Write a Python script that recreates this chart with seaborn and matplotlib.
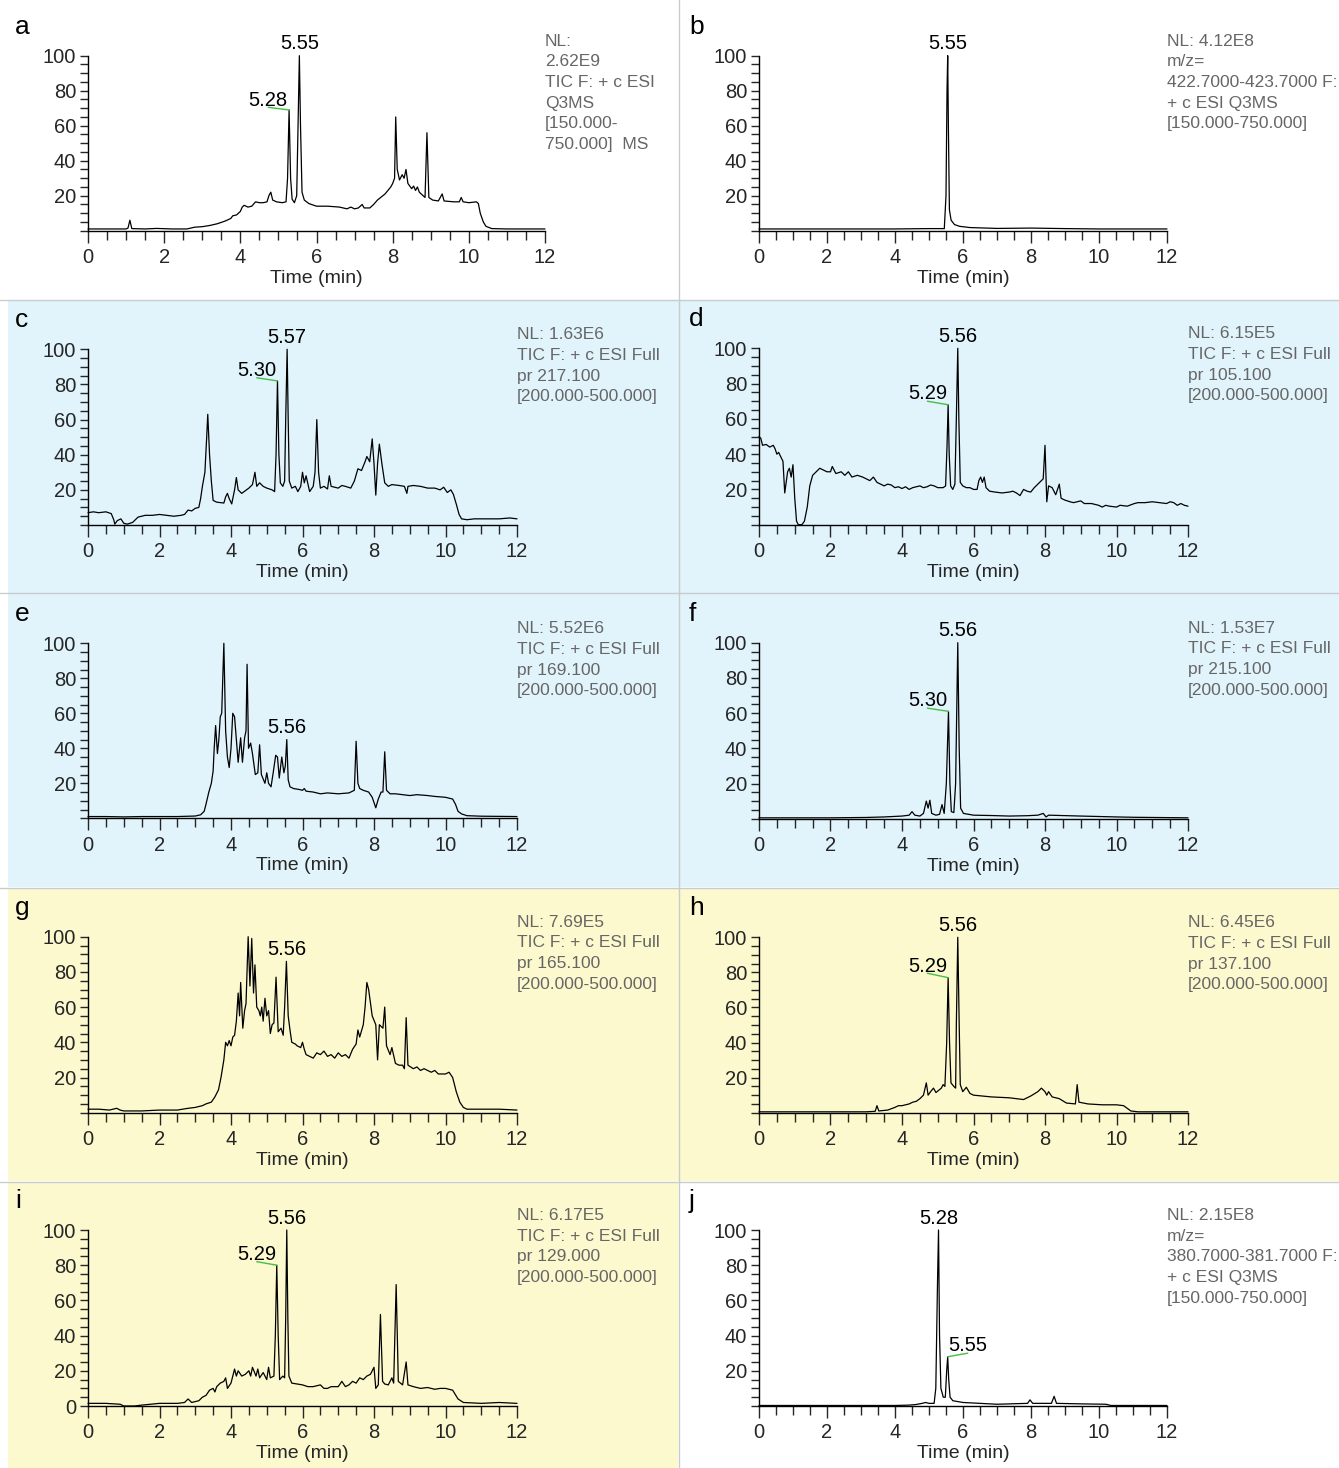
import numpy as np
import pandas as pd
import matplotlib
matplotlib.use("Agg")
import matplotlib.pyplot as plt
import seaborn as sns
from matplotlib.patches import Rectangle
from matplotlib.lines import Line2D

# ---------------- DATA (time in min, relative abundance %) ----------------
a_trace = [(0.0,1.0),(0.5,1.0),(1.0,1.0),(1.05,1.5),(1.1,6.0),(1.15,1.2),(1.5,1.0),(1.8,1.3),(2.2,1.0),(2.6,1.0),
           (2.8,2.0),(3.0,2.3),(3.2,3.0),(3.4,4.0),(3.6,5.5),(3.75,7.0),(3.8,8.5),(3.9,9.0),(4.0,11.0),(4.05,13.5),
           (4.1,14.5),(4.2,13.5),(4.3,14.0),(4.4,16.5),(4.5,16.0),(4.6,16.0),(4.7,16.5),(4.75,20.0),(4.8,22.0),(4.85,17.5),
           (4.95,16.5),(5.1,16.0),(5.2,16.5),(5.24,30.0),(5.28,69.0),(5.32,30.0),(5.36,18.0),(5.42,16.0),(5.48,20.0),(5.52,65.0),
           (5.55,100.0),(5.58,60.0),(5.62,22.0),(5.68,17.5),(5.8,15.5),(6.0,14.0),(6.3,14.0),(6.6,13.5),(6.8,12.5),(6.9,13.5),
           (7.0,12.5),(7.1,13.0),(7.2,15.0),(7.25,13.0),(7.4,13.0),(7.5,15.0),(7.6,17.5),(7.8,21.0),(7.95,25.0),(8.0,27.0),
           (8.05,30.0),(8.08,65.0),(8.12,35.0),(8.18,29.0),(8.25,32.0),(8.3,30.0),(8.35,35.0),(8.4,27.0),(8.5,24.0),(8.55,25.5),
           (8.6,23.0),(8.65,25.0),(8.7,22.0),(8.8,20.0),(8.85,19.0),(8.9,56.0),(8.95,19.0),(9.05,17.5),(9.2,17.0),(9.3,21.0),
           (9.35,17.0),(9.6,16.5),(9.75,16.5),(9.8,19.0),(9.85,16.5),(10.0,16.0),(10.2,16.5),(10.25,15.5),(10.3,10.0),(10.38,5.0),
           (10.45,2.5),(10.6,1.2),(11.0,1.0),(12.0,1.0)]

b_trace = [(0.0,1.0),(2.0,1.0),(4.0,1.0),(5.0,1.2),(5.45,1.2),(5.5,20.0),(5.53,80.0),(5.55,100.0),(5.57,60.0),(5.6,12.0),
           (5.65,6.0),(5.75,3.5),(5.9,2.5),(6.2,1.8),(7.0,1.3),(8.0,1.5),(9.0,1.2),(10.0,1.0),(12.0,1.0)]

c_trace = [(0.0,7.0),(0.15,7.5),(0.3,7.0),(0.5,7.5),(0.65,6.5),(0.72,3.0),(0.75,0.5),(0.82,2.5),(0.92,3.5),(1.0,1.0),
           (1.1,0.5),(1.25,1.5),(1.4,4.5),(1.6,5.5),(1.8,5.5),(2.0,6.0),(2.2,5.5),(2.4,5.0),(2.6,5.5),(2.7,6.0),
           (2.8,8.5),(2.9,8.0),(3.0,9.5),(3.1,10.0),(3.15,15.0),(3.2,22.0),(3.27,30.0),(3.32,50.0),(3.35,63.0),(3.4,40.0),
           (3.45,25.0),(3.5,14.0),(3.6,13.0),(3.8,12.5),(3.85,16.0),(3.9,18.0),(3.95,15.0),(4.02,12.0),(4.1,20.0),(4.15,27.0),
           (4.2,20.0),(4.3,18.0),(4.4,19.5),(4.5,21.0),(4.6,23.0),(4.67,30.0),(4.72,22.0),(4.8,24.0),(4.9,22.0),(5.0,21.0),
           (5.15,20.0),(5.22,19.0),(5.26,40.0),(5.3,82.0),(5.34,40.0),(5.38,24.0),(5.45,22.0),(5.5,25.0),(5.53,60.0),(5.57,100.0),
           (5.6,60.0),(5.63,25.0),(5.7,21.0),(5.8,22.0),(5.87,19.0),(5.95,22.0),(6.0,30.0),(6.05,24.0),(6.1,28.0),(6.2,19.0),
           (6.3,22.0),(6.35,30.0),(6.4,60.0),(6.45,30.0),(6.5,21.0),(6.6,22.0),(6.7,20.5),(6.75,28.0),(6.8,22.0),(6.9,21.5),
           (7.0,21.0),(7.1,22.5),(7.2,22.0),(7.35,21.0),(7.45,25.0),(7.55,32.0),(7.65,31.0),(7.75,36.0),(7.8,39.0),(7.88,36.0),
           (7.95,49.0),(8.0,35.0),(8.05,17.0),(8.1,35.0),(8.15,46.0),(8.22,35.0),(8.3,24.0),(8.4,22.0),(8.5,23.0),(8.7,22.5),
           (8.85,22.0),(8.92,18.0),(8.95,22.0),(9.1,22.5),(9.3,22.0),(9.5,21.0),(9.7,21.0),(9.85,20.0),(9.95,21.5),(10.05,18.5),
           (10.15,20.0),(10.22,17.5),(10.3,12.0),(10.38,6.0),(10.45,3.5),(10.6,3.0),(10.8,3.5),(11.2,3.5),(11.5,3.5),(11.8,4.0),
           (12.0,3.5)]

d_trace = [(0.0,50.0),(0.05,49.0),(0.1,45.0),(0.2,45.5),(0.3,44.0),(0.4,45.0),(0.45,43.0),(0.5,40.0),(0.55,41.0),(0.62,38.0),
           (0.67,36.0),(0.72,18.0),(0.8,30.0),(0.85,32.0),(0.9,27.0),(0.95,34.0),(1.0,15.0),(1.05,2.0),(1.1,0.0),(1.2,0.0),
           (1.27,2.0),(1.35,10.0),(1.42,22.0),(1.5,28.0),(1.6,30.0),(1.7,32.0),(1.8,31.0),(1.9,30.0),(2.0,30.0),(2.05,33.0),
           (2.15,29.0),(2.3,30.0),(2.4,28.0),(2.5,30.0),(2.6,27.0),(2.75,28.0),(2.9,27.0),(3.0,26.0),(3.1,25.0),(3.2,27.0),
           (3.3,24.0),(3.5,22.0),(3.6,23.0),(3.7,22.5),(3.8,21.0),(3.9,21.5),(4.0,20.5),(4.1,21.5),(4.2,20.0),(4.3,21.0),
           (4.5,22.0),(4.6,21.0),(4.7,21.5),(4.8,22.5),(4.9,22.0),(5.0,21.0),(5.15,21.0),(5.22,22.0),(5.26,45.0),(5.29,68.0),
           (5.32,40.0),(5.36,22.0),(5.42,20.0),(5.48,23.0),(5.52,60.0),(5.56,100.0),(5.59,60.0),(5.63,24.0),(5.7,22.0),(5.8,21.0),
           (5.9,21.0),(6.0,20.0),(6.1,20.0),(6.15,25.0),(6.2,27.0),(6.25,24.0),(6.3,27.0),(6.35,21.0),(6.45,19.0),(6.6,18.5),
           (6.8,18.0),(7.0,18.5),(7.1,19.0),(7.2,18.0),(7.3,16.5),(7.4,20.0),(7.5,19.0),(7.6,18.5),(7.7,21.0),(7.8,23.0),
           (7.9,25.0),(7.95,26.0),(8.0,45.0),(8.05,13.0),(8.1,22.0),(8.2,21.0),(8.3,17.0),(8.4,23.0),(8.45,15.0),(8.55,14.0),
           (8.7,13.0),(8.8,12.5),(8.9,13.0),(9.0,13.5),(9.1,12.0),(9.3,12.0),(9.5,11.0),(9.6,10.0),(9.7,11.0),(9.8,10.5),
           (10.0,10.0),(10.1,11.0),(10.3,10.5),(10.5,12.0),(10.6,12.5),(10.8,12.5),(11.0,13.0),(11.2,12.5),(11.4,12.0),(11.5,13.0),
           (11.6,12.5),(11.7,11.0),(11.8,12.0),(11.9,11.0),(12.0,10.5)]

e_trace = [(0.0,1.0),(0.5,1.0),(1.0,0.8),(1.5,1.0),(2.0,1.0),(2.5,1.0),(3.0,1.3),(3.15,2.0),(3.25,4.0),(3.3,8.0),
           (3.38,15.0),(3.45,20.0),(3.5,27.0),(3.53,40.0),(3.57,53.0),(3.62,37.0),(3.66,45.0),(3.7,58.0),(3.74,60.0),(3.8,100.0),
           (3.85,50.0),(3.9,35.0),(3.95,29.0),(4.0,40.0),(4.05,60.0),(4.1,58.0),(4.15,45.0),(4.2,32.0),(4.27,46.0),(4.32,32.0),
           (4.38,46.0),(4.42,50.0),(4.45,88.0),(4.49,40.0),(4.55,43.0),(4.6,37.0),(4.68,25.0),(4.75,26.0),(4.8,42.0),(4.85,25.0),
           (4.95,20.0),(5.0,26.0),(5.05,20.0),(5.12,18.0),(5.18,26.0),(5.25,36.0),(5.3,35.0),(5.35,23.0),(5.42,35.0),(5.48,26.0),
           (5.52,30.0),(5.56,45.0),(5.6,22.0),(5.65,18.0),(5.75,17.0),(5.9,16.5),(6.0,16.0),(6.05,17.0),(6.1,15.5),(6.3,15.0),
           (6.5,14.0),(6.7,14.5),(7.0,14.0),(7.3,14.5),(7.45,16.0),(7.5,44.0),(7.55,20.0),(7.6,17.0),(7.7,16.0),(7.85,15.0),
           (7.95,12.0),(8.05,6.0),(8.12,11.0),(8.2,15.0),(8.25,15.0),(8.3,38.0),(8.35,16.0),(8.45,14.0),(8.6,14.0),(8.8,13.5),
           (9.0,13.0),(9.2,13.5),(9.5,13.0),(9.7,12.5),(10.0,12.0),(10.2,11.0),(10.28,8.0),(10.35,4.0),(10.45,2.5),(10.6,1.5),
           (11.0,1.2),(12.0,1.0)]

f_trace = [(0.0,0.5),(1.0,0.5),(2.0,0.5),(3.0,0.7),(3.5,1.0),(4.0,1.5),(4.2,2.0),(4.28,4.0),(4.36,2.0),(4.5,1.5),
           (4.6,3.0),(4.68,10.0),(4.73,6.0),(4.78,10.5),(4.83,3.0),(4.95,2.0),(5.05,2.5),(5.12,8.0),(5.18,3.0),(5.24,20.0),
           (5.3,61.0),(5.34,20.0),(5.38,4.0),(5.45,3.5),(5.5,20.0),(5.56,100.0),(5.6,40.0),(5.64,6.0),(5.72,3.0),(6.0,2.0),
           (6.5,1.8),(7.0,1.5),(7.5,1.7),(7.8,2.0),(7.95,3.0),(8.03,1.0),(8.1,2.0),(9.0,1.5),(10.0,1.0),(10.5,0.8),(12.0,0.5)]

g_trace = [(0.0,2.0),(0.3,2.0),(0.6,1.5),(0.8,2.5),(0.9,1.5),(1.0,1.0),(1.5,1.0),(2.0,1.5),(2.5,1.5),(2.8,2.5),
           (3.0,3.0),(3.2,4.0),(3.3,5.0),(3.45,6.0),(3.55,9.0),(3.65,13.0),(3.72,20.0),(3.8,30.0),(3.85,40.0),(3.9,38.0),
           (3.95,41.0),(4.0,38.0),(4.05,43.0),(4.1,44.0),(4.15,52.0),(4.2,68.0),(4.24,55.0),(4.27,74.0),(4.33,48.0),(4.38,58.0),
           (4.42,62.0),(4.48,100.0),(4.53,72.0),(4.58,99.0),(4.63,68.0),(4.67,84.0),(4.72,60.0),(4.78,58.0),(4.82,55.0),(4.86,60.0),
           (4.9,52.0),(4.95,65.0),(5.0,55.0),(5.05,58.0),(5.1,45.0),(5.15,50.0),(5.2,51.0),(5.26,77.0),(5.32,46.0),(5.4,48.0),
           (5.46,44.0),(5.5,60.0),(5.55,86.0),(5.6,55.0),(5.65,47.0),(5.7,40.0),(5.8,39.0),(5.85,38.0),(5.95,37.0),(6.0,40.0),
           (6.05,36.0),(6.1,33.0),(6.2,32.0),(6.3,31.0),(6.4,34.0),(6.5,33.0),(6.6,35.0),(6.7,32.0),(6.8,33.0),(6.9,31.0),
           (7.0,34.0),(7.1,32.0),(7.2,33.0),(7.3,31.0),(7.4,36.0),(7.5,39.0),(7.55,47.0),(7.6,43.0),(7.7,50.0),(7.75,60.0),
           (7.8,74.0),(7.85,70.0),(7.95,55.0),(8.05,50.0),(8.1,30.0),(8.15,50.0),(8.25,48.0),(8.3,60.0),(8.35,38.0),(8.45,33.0),
           (8.5,37.0),(8.6,28.0),(8.7,27.0),(8.8,27.0),(8.85,25.0),(8.9,54.0),(8.95,27.0),(9.1,25.0),(9.2,26.0),(9.3,24.0),
           (9.4,25.0),(9.6,23.0),(9.7,24.0),(9.8,22.0),(10.0,22.0),(10.1,23.0),(10.2,20.0),(10.3,12.0),(10.4,6.0),(10.5,3.0),
           (10.6,2.0),(11.0,2.0),(11.5,2.0),(12.0,1.5)]

h_trace = [(0.0,0.5),(1.0,0.5),(2.0,0.5),(3.0,0.5),(3.25,0.8),(3.3,4.0),(3.35,1.0),(3.6,1.5),(3.8,3.0),(3.9,4.0),
           (4.0,4.0),(4.2,5.0),(4.3,6.0),(4.4,6.5),(4.5,8.0),(4.6,10.0),(4.68,17.0),(4.73,10.0),(4.8,12.0),(4.88,14.0),
           (4.95,11.5),(5.1,14.0),(5.15,16.0),(5.2,15.0),(5.25,40.0),(5.29,77.0),(5.33,40.0),(5.37,17.0),(5.45,15.0),(5.5,14.0),
           (5.52,50.0),(5.56,100.0),(5.6,50.0),(5.63,16.0),(5.7,12.0),(5.8,14.5),(5.9,11.0),(6.0,10.0),(6.5,9.0),(7.0,8.5),
           (7.2,8.0),(7.4,7.5),(7.6,9.5),(7.8,12.0),(7.9,14.0),(8.0,12.0),(8.05,10.0),(8.1,12.0),(8.2,9.0),(8.4,8.0),
           (8.6,5.5),(8.85,5.0),(8.9,16.0),(8.95,6.0),(9.2,5.0),(9.6,4.5),(10.0,4.5),(10.2,4.0),(10.4,1.0),(10.6,0.5),
           (12.0,0.5)]

i_trace = [(0.0,1.5),(0.5,1.5),(0.9,1.0),(1.0,0.0),(1.3,0.0),(1.5,0.5),(2.0,1.5),(2.5,1.5),(2.7,2.0),(2.8,4.0),
           (2.9,2.0),(3.1,3.0),(3.2,5.0),(3.3,6.0),(3.4,9.0),(3.5,10.0),(3.55,8.0),(3.6,11.0),(3.7,13.0),(3.8,14.0),
           (3.85,16.0),(3.9,10.0),(4.0,13.0),(4.1,21.0),(4.15,17.0),(4.2,20.0),(4.3,17.0),(4.4,18.0),(4.5,20.0),(4.55,17.0),
           (4.6,22.0),(4.7,17.0),(4.75,21.0),(4.8,16.0),(4.9,19.0),(5.0,15.0),(5.05,22.0),(5.1,16.0),(5.2,17.0),(5.24,40.0),
           (5.28,80.0),(5.32,40.0),(5.36,15.0),(5.45,17.0),(5.5,16.0),(5.53,50.0),(5.56,100.0),(5.59,50.0),(5.62,17.0),(5.7,13.0),
           (5.85,12.5),(6.0,12.0),(6.15,11.0),(6.3,11.0),(6.5,12.0),(6.6,10.0),(6.7,10.0),(6.8,11.0),(7.0,11.0),(7.1,14.0),
           (7.2,11.0),(7.3,12.0),(7.4,14.0),(7.5,13.0),(7.6,16.0),(7.7,15.0),(7.8,17.0),(7.9,18.0),(8.0,22.0),(8.05,10.0),
           (8.12,12.0),(8.18,52.0),(8.24,14.0),(8.3,12.5),(8.4,12.0),(8.5,16.0),(8.55,13.0),(8.62,69.0),(8.68,14.0),(8.8,12.0),
           (8.9,25.0),(8.95,12.0),(9.1,11.0),(9.3,10.0),(9.5,10.5),(9.7,9.5),(9.85,10.0),(10.0,10.0),(10.2,9.0),(10.35,4.0),
           (10.5,2.0),(11.0,1.5),(11.5,2.0),(12.0,1.5)]

j_trace = [(0.0,0.3),(2.0,0.3),(4.0,0.3),(4.4,0.5),(4.6,0.8),(4.8,1.5),(4.9,2.0),(5.0,1.5),(5.15,1.5),(5.2,10.0),
           (5.25,70.0),(5.28,100.0),(5.31,40.0),(5.35,10.0),(5.42,5.0),(5.48,5.0),(5.52,20.0),(5.55,28.0),(5.58,15.0),(5.62,5.0),
           (5.7,3.0),(6.0,2.0),(6.5,1.5),(7.0,1.0),(7.9,1.5),(7.97,3.5),(8.05,1.5),(8.6,1.5),(8.68,5.5),(8.75,1.5),
           (9.5,1.2),(10.2,1.0),(10.35,0.3),(12.0,0.3)]

panel_letters = ["a", "b", "c", "d", "e", "f", "g", "h", "i", "j"]

info_texts = {
    "a": "NL:\n2.62E9\nTIC F: + c ESI\nQ3MS\n[150.000-\n750.000]  MS",
    "b": "NL: 4.12E8\nm/z=\n422.7000-423.7000 F:\n+ c ESI Q3MS\n[150.000-750.000]",
    "c": "NL: 1.63E6\nTIC F: + c ESI Full\npr 217.100\n[200.000-500.000]",
    "d": "NL: 6.15E5\nTIC F: + c ESI Full\npr 105.100\n[200.000-500.000]",
    "e": "NL: 5.52E6\nTIC F: + c ESI Full\npr 169.100\n[200.000-500.000]",
    "f": "NL: 1.53E7\nTIC F: + c ESI Full\npr 215.100\n[200.000-500.000]",
    "g": "NL: 7.69E5\nTIC F: + c ESI Full\npr 165.100\n[200.000-500.000]",
    "h": "NL: 6.45E6\nTIC F: + c ESI Full\npr 137.100\n[200.000-500.000]",
    "i": "NL: 6.17E5\nTIC F: + c ESI Full\npr 129.000\n[200.000-500.000]",
    "j": "NL: 2.15E8\nm/z=\n380.7000-381.7000 F:\n+ c ESI Q3MS\n[150.000-750.000]",
}

# peak labels placed right above the apex: (text, peak time, peak height)
top_labels = {
    "a": ("5.55", 5.55, 100.0), "b": ("5.55", 5.55, 100.0), "c": ("5.57", 5.57, 100.0),
    "d": ("5.56", 5.56, 100.0), "e": ("5.56", 5.56, 45.0), "f": ("5.56", 5.56, 100.0),
    "g": ("5.56", 5.56, 86.0), "h": ("5.56", 5.56, 100.0), "i": ("5.56", 5.56, 100.0),
    "j": ("5.28", 5.28, 100.0),
}
# labels joined to the apex by a green leader: (text, peak time, peak height, label time, label height)
leader_labels = {
    "a": ("5.28", 5.28, 69.0, 4.73, 70.5),
    "c": ("5.30", 5.30, 82.0, 4.72, 83.8),
    "d": ("5.29", 5.29, 68.0, 4.71, 70.0),
    "f": ("5.30", 5.30, 61.0, 4.71, 62.8),
    "h": ("5.29", 5.29, 77.0, 4.71, 79.5),
    "i": ("5.29", 5.28, 80.0, 4.72, 82.0),
    "j": ("5.55", 5.55, 28.0, 6.14, 30.0),
}

traces = {"a": a_trace, "b": b_trace, "c": c_trace, "d": d_trace, "e": e_trace,
          "f": f_trace, "g": g_trace, "h": h_trace, "i": i_trace, "j": j_trace}

# ---------------- LAYOUT (pixels) ----------------
W, H = 1339, 1468
axes_px = {  # left, right, top(=100), bottom(=0)
    "a": (88, 545, 55.7, 230.7), "b": (759, 1167, 55.7, 230.7),
    "c": (88, 517, 349.3, 525.0), "d": (759, 1188, 348.3, 524.7),
    "e": (88, 517, 643.3, 818.3), "f": (759, 1188, 642.7, 818.7),
    "g": (88, 517, 936.7, 1112.7), "h": (759, 1188, 937.3, 1112.7),
    "i": (88, 517, 1230.0, 1406.0), "j": (759, 1167, 1230.0, 1406.0),
}

sns.set_style("ticks")
plt.rcParams["font.family"] = ["Liberation Sans", "DejaVu Sans"]

fig = plt.figure(figsize=(W / 100, H / 100), dpi=100)
fig.patch.set_facecolor("white")


def fx(px):
    return px / W


def fy(py):
    return 1 - py / H


def rect(x0, y0, x1, y1, color):
    fig.add_artist(Rectangle((fx(x0), fy(y1)), fx(x1) - fx(x0), fy(y0) - fy(y1),
                             transform=fig.transFigure, facecolor=color,
                             edgecolor="none", zorder=0))


def hline(y, x0, x1, color):
    fig.add_artist(Line2D([fx(x0), fx(x1)], [fy(y), fy(y)], transform=fig.transFigure,
                          color=color, lw=1.0, zorder=1))


def vline(x, y0, y1, color):
    fig.add_artist(Line2D([fx(x), fx(x)], [fy(y0), fy(y1)], transform=fig.transFigure,
                          color=color, lw=1.0, zorder=1))


BLUE = "#E1F3FB"
YELLOW = "#FCF9CE"
SEP = "#C8CCCF"

rect(8, 300, W, 593, BLUE)
rect(8, 594, W, 887, BLUE)
rect(8, 888, W, 1181, YELLOW)
rect(8, 1182, 678, H, YELLOW)
for yy in (299.5, 593.5, 887.5, 1181.5):
    hline(yy, 0, W, SEP)
vline(678.5, 0, H, SEP)

for key in panel_letters:
    l, r, t, b = axes_px[key]
    ax = fig.add_axes([fx(l), fy(b), fx(r) - fx(l), (b - t) / H])
    ax.set_facecolor("none")
    pts = traces[key]
    df = pd.DataFrame({"time": [p[0] for p in pts], "abundance": [p[1] for p in pts]})
    sns.lineplot(data=df, x="time", y="abundance", ax=ax, color="black", linewidth=0.9,
                 estimator=None, sort=False, legend=False)
    for ln in ax.lines:
        ln.set_clip_on(False)

    ax.set_xlim(0, 12)
    ax.set_ylim(0, 100)
    ax.set_xticks(np.arange(0, 13, 2))
    ax.set_xticks(np.arange(0, 12.01, 0.5), minor=True)
    if key == "i":
        ax.set_yticks([0, 20, 40, 60, 80, 100])
    else:
        ax.set_yticks([20, 40, 60, 80, 100])
    ax.set_yticks(np.arange(0, 100.1, 5), minor=True)
    ax.tick_params(axis="x", which="major", length=8.5, width=1.0, labelsize=14.5, pad=4)
    ax.tick_params(axis="x", which="minor", length=6.5, width=1.0)
    ax.tick_params(axis="y", which="both", length=5.5, width=1.0, labelsize=14.5, pad=3)
    for s in ("top", "right"):
        ax.spines[s].set_visible(False)
    for s in ("left", "bottom"):
        ax.spines[s].set_linewidth(1.0)
        ax.spines[s].set_color("black")
    ax.set_xlabel("Time (min)", fontsize=14, labelpad=2)
    ax.set_ylabel("")

    # info box
    ax.text(1.0, 1 + 22 / (b - t), info_texts[key], transform=ax.transAxes, ha="left", va="top",
            fontsize=12.5, color="#666666", linespacing=1.47)

    # panel letter
    lx = 15 if l < 600 else 689
    fig.text(fx(lx), fy(t - 22), key, fontsize=19, ha="left", va="baseline", color="black")

    # peak labels
    txt, px_, py_ = top_labels[key]
    ax.text(px_, py_ + 3.6, txt, ha="center", va="baseline", fontsize=14.5, color="black", clip_on=False)
    if key in leader_labels:
        txt, px_, py_, lx_, ly_ = leader_labels[key]
        ax.plot([lx_, px_], [ly_, py_], color="#45BE45", lw=1.0, clip_on=False)
        ax.text(lx_, ly_ + 1.0, txt, ha="center", va="baseline", fontsize=14.5, color="black", clip_on=False)

fig.savefig("out.png", dpi=100, facecolor="white")
